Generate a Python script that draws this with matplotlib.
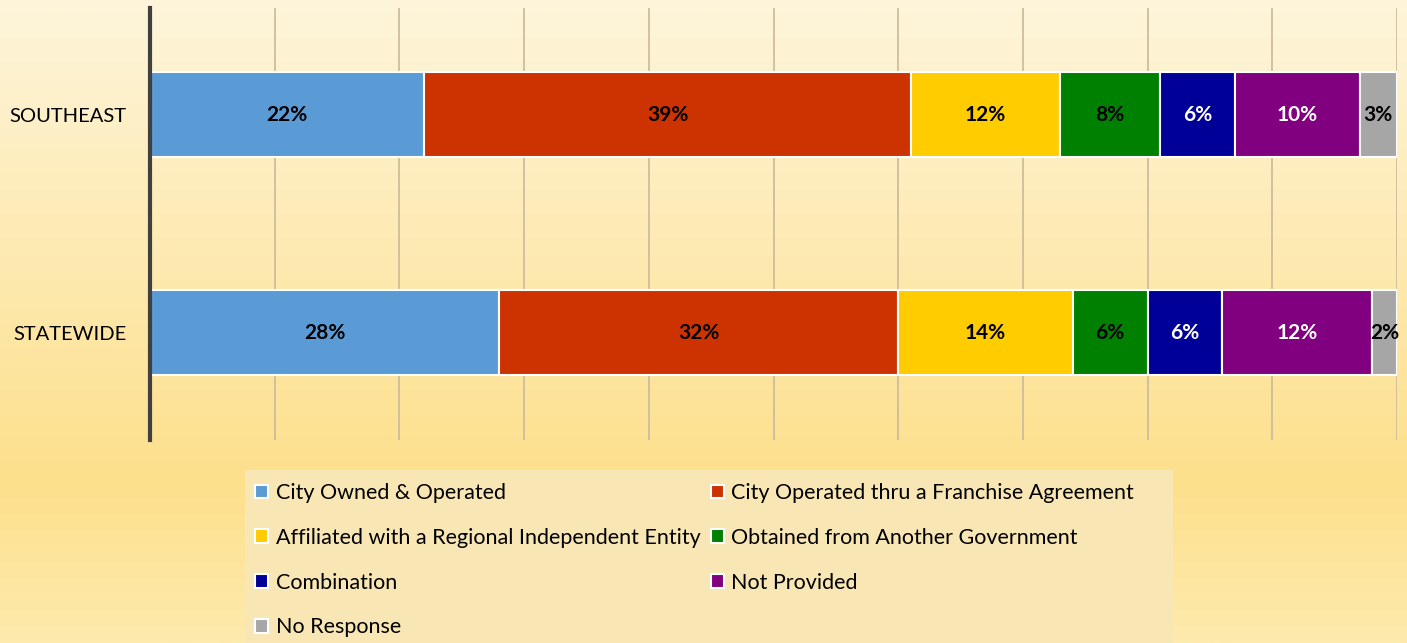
import matplotlib; matplotlib.use("Agg")
import matplotlib.pyplot as plt
import numpy as np
from matplotlib.colors import LinearSegmentedColormap
from matplotlib.patches import Rectangle

REGIONS = ["SOUTHEAST", "STATEWIDE"]
SOURCES = ["City Owned & Operated", "City Operated thru a Franchise Agreement",
           "Affiliated with a Regional Independent Entity", "Obtained from Another Government",
           "Combination", "Not Provided", "No Response"]
SOUTHEAST = [22, 39, 12, 8, 6, 10, 3]
STATEWIDE = [28, 32, 14, 6, 6, 12, 2]
COLORS = ["#5B9BD5", "#CC3300", "#FFCC00", "#008000", "#000099", "#800080", "#A6A6A6"]
TXT = ["black", "black", "black", "black", "white", "white", "black"]

plt.rcParams['font.family'] = ['Lato', 'DejaVu Sans']

fig = plt.figure(figsize=(14.07, 6.43), dpi=100)

# gradient background
bg = fig.add_axes([0, 0, 1, 1], zorder=-10)
cmap = LinearSegmentedColormap.from_list("bg", [(0, "#FEF5DB"), (0.75, "#FDE08C"), (1.0, "#FEEAAD")])
grad = np.linspace(0, 1, 256).reshape(-1, 1)
bg.imshow(grad, aspect="auto", cmap=cmap, extent=[0, 1, 0, 1], origin="upper")
bg.axis("off")

ax = fig.add_axes([150/1407, 1-440/643, 1247/1407, 432/643])
ax.set_facecolor("none")
ypos = [1, 0]
data = [SOUTHEAST, STATEWIDE]
handles = []
for y, vals in zip(ypos, data):
    left = 0
    for i, v in enumerate(vals):
        b = ax.barh(y, v/100, left=left, height=0.39, color=COLORS[i], edgecolor="white",
                    linewidth=1.5, zorder=3)
        if y == 1:
            handles.append(b)
        ax.text(left + v/200, y, f"{v}%", ha="center", va="center", fontsize=15,
                fontweight="bold", color=TXT[i], zorder=4)
        left += v/100

ax.set_xlim(0, 1)
ax.set_ylim(-0.493, 1.4885)
ax.set_xticks(np.arange(0, 1.01, 0.1))
ax.set_xticklabels([])
ax.tick_params(axis="x", length=0)
ax.set_yticks(ypos)
ax.set_yticklabels(REGIONS, fontsize=14.5)
ax.tick_params(axis="y", length=0, pad=17)
ax.grid(axis="x", color="#CDBD9C", linewidth=1.3, zorder=0)
for s in ["top", "right", "bottom"]:
    ax.spines[s].set_visible(False)
ax.spines["left"].set_color("#404040")
ax.spines["left"].set_linewidth(3)
ax.spines["left"].set_zorder(5)

# legend panel
fig.patches.append(Rectangle((245/1407, 0), 928/1407, 1-470/643, transform=fig.transFigure,
                             facecolor="#F8E7B4", edgecolor="none", zorder=0))

# legend filled row-wise, matplotlib fills column-wise
order = [0, 2, 4, 6, 1, 3, 5]
leg = fig.legend([handles[i] for i in order], [SOURCES[i] for i in order], ncol=2,
                 loc="upper left", bbox_to_anchor=(240/1407, 1-468/643), fontsize=15.5,
                 frameon=False, borderpad=0.2, labelspacing=1.15,
                 handlelength=0.6, handleheight=0.6, handletextpad=0.35, columnspacing=0.5)

fig.savefig("out.png", dpi=100)
